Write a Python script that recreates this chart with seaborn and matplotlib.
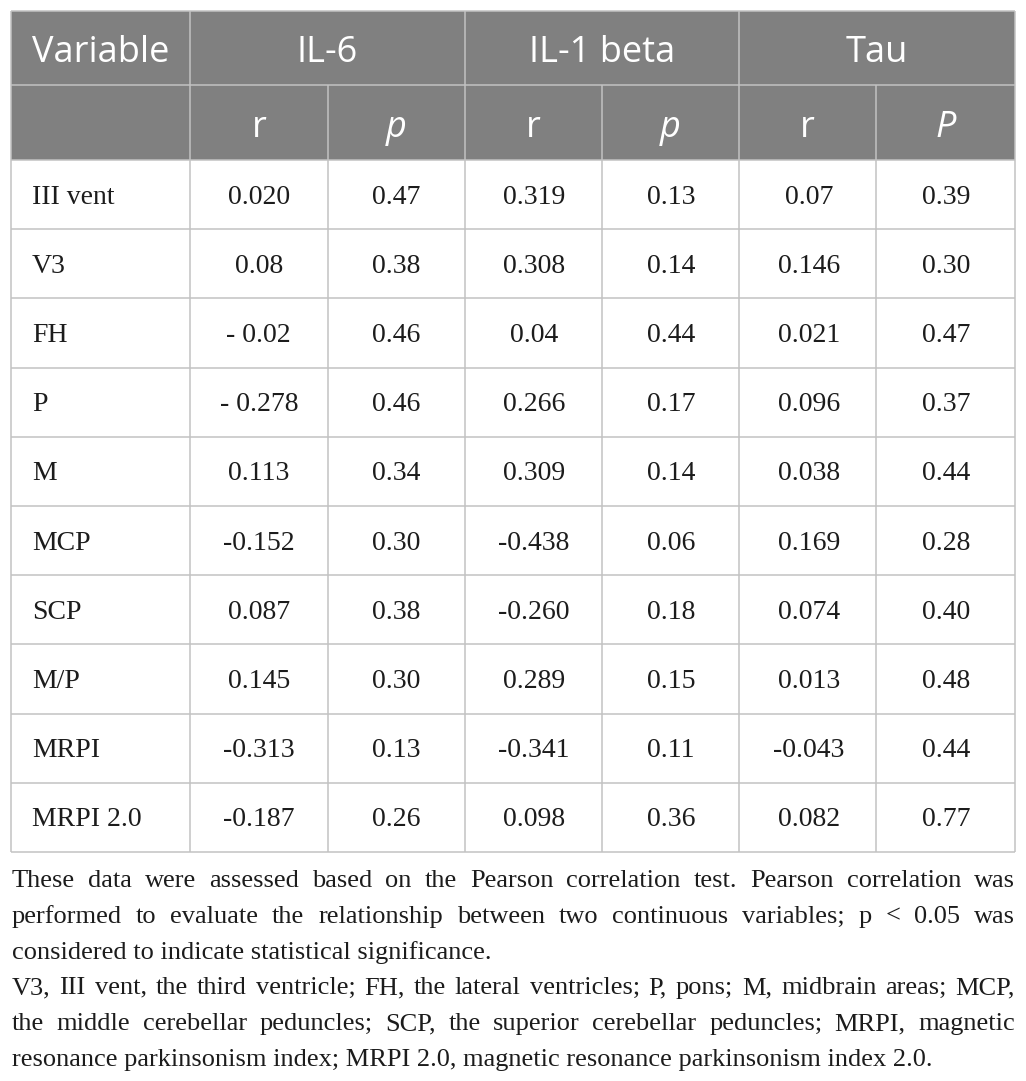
import numpy as np
import pandas as pd
import matplotlib
matplotlib.use("Agg")
import matplotlib.pyplot as plt
from matplotlib.colors import ListedColormap
from matplotlib.patches import Rectangle
import seaborn as sns

# table content
variables = ["III vent", "V3", "FH", "P", "M", "MCP", "SCP", "M/P", "MRPI", "MRPI 2.0"]
groups = ["IL-6", "IL-1 beta", "Tau"]
sub_headers = ["r", "p", "r", "p", "r", "P"]

il6_r = ["0.020", "0.08", "- 0.02", "- 0.278", "0.113", "-0.152", "0.087", "0.145", "-0.313", "-0.187"]
il6_p = ["0.47", "0.38", "0.46", "0.46", "0.34", "0.30", "0.38", "0.30", "0.13", "0.26"]
il1_r = ["0.319", "0.308", "0.04", "0.266", "0.309", "-0.438", "-0.260", "0.289", "-0.341", "0.098"]
il1_p = ["0.13", "0.14", "0.44", "0.17", "0.14", "0.06", "0.18", "0.15", "0.11", "0.36"]
tau_r = ["0.07", "0.146", "0.021", "0.096", "0.038", "0.169", "0.074", "0.013", "-0.043", "0.082"]
tau_p = ["0.39", "0.30", "0.47", "0.37", "0.44", "0.28", "0.40", "0.48", "0.44", "0.77"]

footnote_1 = [
    "These data were assessed based on the Pearson correlation test. Pearson correlation was",
    "performed to evaluate the relationship between two continuous variables; p < 0.05 was",
    "considered to indicate statistical significance.",
]
footnote_2 = [
    "V3, III vent, the third ventricle; FH, the lateral ventricles; P, pons; M, midbrain areas; MCP,",
    "the middle cerebellar peduncles; SCP, the superior cerebellar peduncles; MRPI, magnetic",
    "resonance parkinsonism index; MRPI 2.0, magnetic resonance parkinsonism index 2.0.",
]

W, H = 1026, 1081
HEAD_GREY = "#808080"
GRID = "#c2c2c2"
INK = "#1c1c1c"
SERIF = ["Liberation Serif", "DejaVu Serif"]
SANS = ["Open Sans", "DejaVu Sans"]
BODY_FS = 20

sns.set_theme(style="white")
plt.rcParams["font.family"] = SERIF

# layout in pixels
left, right, top = 11, 1015, 11
head_mid, body_top, body_bot = 85, 160, 852
col_edges = [11, 190, 328, 465, 602, 739, 876, 1015]

cols = [il6_r, il6_p, il1_r, il1_p, tau_r, tau_p]
labels = np.array(cols).T
values = pd.DataFrame(
    [[float(s.replace(" ", "")) for s in row] for row in labels],
    index=variables,
)

fig = plt.figure(figsize=(W / 100, H / 100), dpi=100)
fig.patch.set_facecolor("white")

# body cells through seaborn heatmap
axh = fig.add_axes([col_edges[1] / W, 1 - body_bot / H,
                    (right - col_edges[1]) / W, (body_bot - body_top) / H])
sns.heatmap(values, ax=axh, cmap=ListedColormap(["white"]), cbar=False,
            annot=labels, fmt="", linewidths=0,
            xticklabels=False, yticklabels=False,
            annot_kws=dict(fontsize=BODY_FS, family=SERIF, color=INK))
axh.set_axis_off()

row_h = (body_bot - body_top) / len(variables)
# nudge the annotations down a little to sit like the reference
for t in axh.texts:
    x, y = t.get_position()
    t.set_position((x, y + 2.5 / row_h))

# overlay in pixel coordinates
ax = fig.add_axes([0, 0, 1, 1])
ax.set_facecolor("none")
ax.set_xlim(0, W)
ax.set_ylim(H, 0)
ax.set_axis_off()

ax.add_patch(Rectangle((left, top), right - left, body_top - top,
                       facecolor=HEAD_GREY, edgecolor="none"))

lw = 1.1
for y in [top, head_mid] + [body_top + i * row_h for i in range(len(variables) + 1)]:
    ax.plot([left, right], [y, y], color=GRID, lw=lw, solid_capstyle="butt")
for i, x in enumerate(col_edges):
    y0 = head_mid if i in (2, 4, 6) else top
    ax.plot([x, x], [y0, body_bot], color=GRID, lw=lw, solid_capstyle="butt")

# header text
hs = 26
ax.text(32, 62, "Variable", color="white", fontsize=hs, family=SANS, va="baseline")
for g, name in enumerate(groups):
    xc = (col_edges[1 + 2 * g] + col_edges[3 + 2 * g]) / 2
    ax.text(xc, 62, name, color="white", fontsize=hs, family=SANS,
            ha="center", va="baseline")
for j, name in enumerate(sub_headers):
    xc = (col_edges[1 + j] + col_edges[2 + j]) / 2
    ax.text(xc, 137, name, color="white", fontsize=hs, family=SANS,
            style="normal" if name == "r" else "italic",
            ha="center", va="baseline")

# variable column
for i, name in enumerate(variables):
    ax.text(32, body_top + (i + 0.5) * row_h + 2.5, name, fontsize=BODY_FS,
            family=SERIF, color=INK, va="center")

# footnotes, justified
renderer = fig.canvas.get_renderer()


def text_width(s, size):
    t = ax.text(0, 0, s, fontsize=size, family=SERIF)
    w = t.get_window_extent(renderer).width
    t.remove()
    return w


fn_lines = footnote_1 + footnote_2
last_lines = {len(footnote_1) - 1, len(fn_lines) - 1}
fs = 19.0
widest = max(text_width(s, fs) for s in fn_lines)
if widest > (right - 12) * 0.985:
    fs = fs * (right - 12) * 0.985 / widest

x_start, x_end = 12, right
for k, line in enumerate(fn_lines):
    base = 887 + k * 35.8
    if k in last_lines:
        ax.text(x_start, base, line, fontsize=fs, family=SERIF, color=INK, va="baseline")
        continue
    words = line.split(" ")
    widths = [text_width(w, fs) for w in words]
    gap = (x_end - x_start - sum(widths)) / (len(words) - 1)
    x = x_start
    for w, wd in zip(words, widths):
        ax.text(x, base, w, fontsize=fs, family=SERIF, color=INK, va="baseline")
        x += wd + gap

fig.savefig("out.png", dpi=100, facecolor="white")
